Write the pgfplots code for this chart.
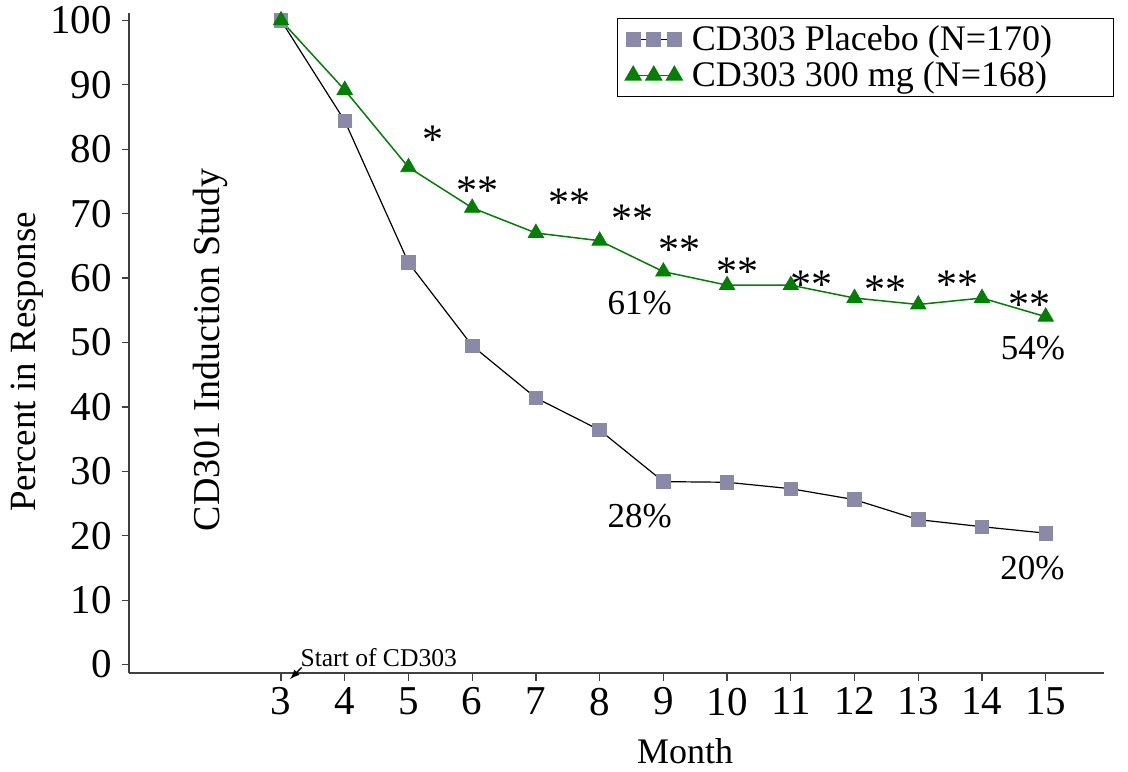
\documentclass[border=0pt]{standalone}
\usepackage{fontspec}
\setmainfont{Liberation Serif}
\usepackage{pgfplots}
\pgfplotsset{compat=1.18}
\usepackage{pgfplotstable}
\definecolor{plgray}{RGB}{138,138,168}
\definecolor{trgreen}{RGB}{0,128,0}
\definecolor{axgray}{RGB}{64,64,64}
\pgfplotstableread{
x y
3 100
4 84.4
5 62.4
6 49.5
7 41.4
8 36.4
9 28.4
10 28.3
11 27.3
12 25.6
13 22.5
14 21.4
15 20.4
}\placebo
\pgfplotstableread{
x y
3 100
4 89.2
5 77.2
6 70.9
7 67.0
8 65.8
9 61.0
10 58.9
11 58.9
12 56.9
13 55.9
14 56.9
15 54.0
}\treat
\begin{document}
\begin{tikzpicture}
\begin{axis}[name=ax,
  scale only axis, width=487.4pt, height=330.3pt,
  xmin=0.619, xmax=15.915, ymin=-1.35, ymax=101.2,
  axis x line*=bottom, axis y line*=left,
  axis line style={-, axgray, line width=1pt},
  tick style={axgray, line width=0.6pt},
  tick align=outside, major tick length=3.75pt,
  xtick={3,...,15}, ytick={0,10,...,100},
  minor tick num=0,
  /pgf/number format/assume math mode=true,
  tick label style={font=\fontsize{20.5}{24}\selectfont},
  yticklabel style={xshift=-1.5pt},
  clip=false,
  legend style={at={(rel axis cs:0.5004,0.992)}, anchor=north west,
    font=\fontsize{18}{20}\selectfont, draw=black, line width=0.5pt,
    inner xsep=4pt, inner ysep=1.5pt, row sep=0pt, cells={anchor=west}},
  legend cell align=left,
]
\addlegendimage{black, line width=0.6pt, mark=square*, mark size=3.4pt,
  mark options={draw=plgray, fill=plgray},
  legend image code/.code={\draw[mark repeat=1] plot coordinates {(0pt,0pt) (10.3pt,0pt) (20.6pt,0pt)};}}
\addlegendentry{\hspace{3pt}\makebox[205pt][l]{CD303 Placebo (N=170)}}
\addlegendimage{trgreen, line width=0.75pt, mark=triangle*, mark size=4.4pt,
  mark options={draw=trgreen, fill=trgreen},
  legend image code/.code={\draw[mark repeat=1] plot coordinates {(0pt,0pt) (10.3pt,0pt) (20.6pt,0pt)};}}
\addlegendentry{\hspace{3pt}\makebox[205pt][l]{CD303 300 mg (N=168)}}
\addplot[draw=none, mark=square*, mark size=3.4pt, mark options={draw=plgray, fill=plgray}, forget plot] table {\placebo};
\addplot[black, line width=0.6pt, no marks, forget plot] table {\placebo};
\addplot[draw=none, mark=triangle*, mark size=4.4pt, mark options={draw=trgreen, fill=trgreen}, forget plot] table {\treat};
\addplot[trgreen, line width=0.75pt, no marks, forget plot] table {\treat};
% stars
\begin{scope}[every node/.style={anchor=base, font=\fontsize{21}{22}\selectfont, inner sep=0pt}]
\node at (axis cs:5.385,79.3) {*};
\node at (axis cs:6.09,71.5) {**};
\node at (axis cs:7.52,69.6) {**};
\node at (axis cs:8.51,67.0) {**};
\node at (axis cs:9.26,62.3) {**};
\node at (axis cs:10.17,58.9) {**};
\node at (axis cs:11.33,56.9) {**};
\node at (axis cs:12.48,56.0) {**};
\node at (axis cs:13.61,56.9) {**};
\node at (axis cs:14.75,53.8) {**};
\end{scope}
\begin{scope}[every node/.style={anchor=base, font=\fontsize{17.5}{20}\selectfont, inner sep=0pt}]
\node at (axis cs:8.63,54.3) {61\%};
\node at (axis cs:8.63,21.2) {28\%};
\node at (axis cs:14.80,47.3) {54\%};
\node at (axis cs:14.79,13.2) {20\%};
\end{scope}
\node[anchor=base, font=\fontsize{18}{20}\selectfont, inner sep=0pt] at (axis cs:9.34,-15.4) {Month};
\node[rotate=90, font=\fontsize{18.5}{20}\selectfont, inner sep=0pt] at (axis cs:-0.986,47.0) {Percent in Response};
\node[rotate=90, font=\fontsize{19}{20}\selectfont, inner sep=0pt] at (axis cs:1.886,48.9) {CD301 Induction Study};
\node[anchor=base west, font=\fontsize{12.8}{14}\selectfont, inner sep=0pt] at (axis cs:3.30,-0.36) {Start of CD303};
\draw[-latex, line width=0.7pt] (axis cs:3.325,-0.46) -- (axis cs:3.14,-2.27);
\end{axis}
\pgfresetboundingbox
\path[use as bounding box] ([shift={(-64.65pt,-49.35pt)}]ax.south west) rectangle ([shift={(12pt,6.35pt)}]ax.north east);
\end{tikzpicture}
\end{document}
